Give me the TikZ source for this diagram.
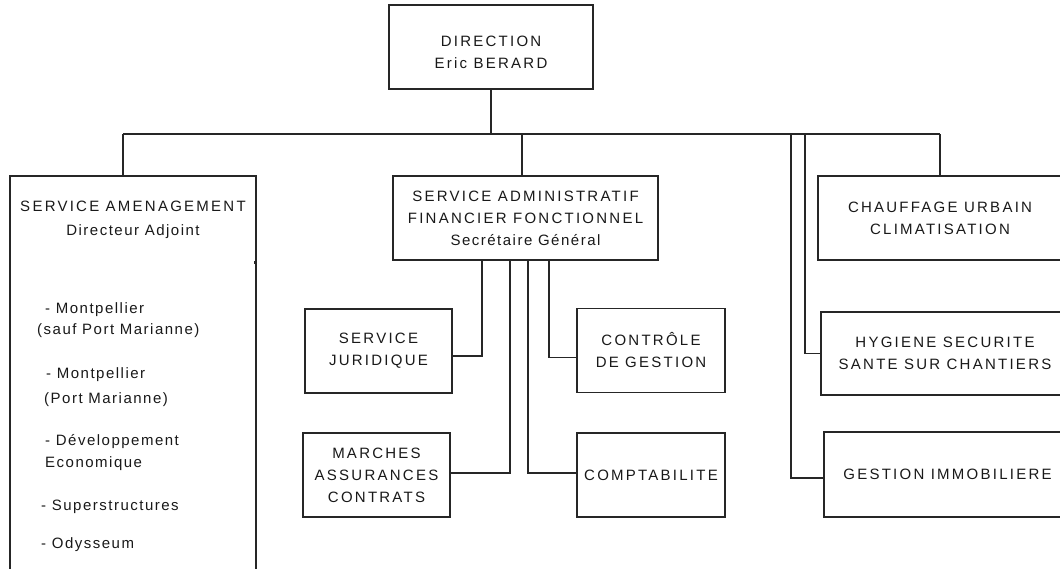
\documentclass[tikz,border=0pt]{standalone}
\usepackage{fontspec}
\setmainfont{Liberation Sans}
\newfontfamily\cps[LetterSpace=15]{Liberation Sans}
\newfontfamily\lws[LetterSpace=10]{Liberation Sans}
\begin{document}
\begin{tikzpicture}[x=1pt,y=-1pt,
  ln/.style={line width=1.5pt, draw=black!85},
  box/.style={ln, rectangle, inner sep=0pt, align=center, text=black!90,
    font=\fontsize{15}{22}\selectfont\cps},
  itm/.style={anchor=base west, inner sep=0pt, text=black!90,
    font=\fontsize{15}{22}\selectfont\lws},
  lbl/.style={align=center, inner sep=0pt, text=black!90,
    font=\fontsize{15}{22}\selectfont\cps}]
\useasboundingbox (0,0) rectangle (1060,568);
\clip (0,0) rectangle (1060,568);
\fill[white] (0,0) rectangle (1060,568);

% boxes
\node[box, minimum width=204pt, minimum height=84pt,
  label={[lbl, yshift=-5pt]center:{DIRECTION\\Eric BERARD}}] (dir) at (491,47) {};
\node[box, minimum width=246pt, minimum height=420pt] (amen) at (133,386) {};
\node[lbl, font=\fontsize{15}{24}\selectfont\cps] (amenT) at (133,220)
  {SERVICE AMENAGEMENT\\{\lws Directeur Adjoint}};
\node[box, minimum width=265pt, minimum height=84pt] (sa) at (525.5,218)
  {SERVICE ADMINISTRATIF\\FINANCIER FONCTIONNEL\\{\lws Secrétaire Général}};
\node[box, minimum width=147pt, minimum height=84pt] (jur) at (378.5,351)
  {SERVICE\\JURIDIQUE};
\node[box, minimum width=148pt, minimum height=84pt] (ctl) at (651,350.5)
  {CONTRÔLE\\DE GESTION};
\node[box, minimum width=147pt, minimum height=84pt] (mar) at (376.5,475)
  {MARCHES\\ASSURANCES\\CONTRATS};
\node[box, minimum width=148pt, minimum height=84pt] (cpt) at (651,475)
  {COMPTABILITE};
\node[box, minimum width=244pt, minimum height=84pt] (chf) at (940,218)
  {CHAUFFAGE URBAIN\\CLIMATISATION};
\node[box, minimum width=248pt, minimum height=83pt] (hyg) at (945,353.5)
  {HYGIENE SECURITE\\SANTE SUR CHANTIERS};
\node[box, minimum width=247pt, minimum height=85pt] (ges) at (947.5,474.5)
  {GESTION IMMOBILIERE};

% items of the left box
\node[itm] (i1a) at (45,313) {- Montpellier};
\node[itm] (i1b) at (37,334) {(sauf Port Marianne)};
\node[itm] (i2a) at (46,378) {- Montpellier};
\node[itm] (i2b) at (44,403) {(Port Marianne)};
\node[itm] (i3a) at (45,445) {- Développement};
\node[itm] (i3b) at (45,467) {Economique};
\node[itm] (i4a) at (41,510) {- Superstructures};
\node[itm] (i5a) at (41,548) {- Odysseum};
\fill[black!85] (254,260.5) rectangle (257,263.5);

% bus
\coordinate (busL) at (123,134);
\coordinate (busR) at (chf.north |- busL);
\coordinate (hygT) at (805,134);
\coordinate (gesT) at (791,134);
\draw[ln] (dir.south) -- (dir.south |- busL);
\draw[ln] (busL) -- (busR);
\draw[ln] (busL) -- (amen.north -| busL);
\draw[ln] ([xshift=-3.5pt]sa.north) -- ([xshift=-3.5pt]sa.north |- busL);
\draw[ln] (chf.north) -- (busR);
\draw[ln] (hyg.west) -| (hygT);
\draw[ln] ([yshift=-3.5pt]ges.west) -| (gesT);

% sub-services
\draw[ln] ([yshift=-5pt]jur.east) -| ([xshift=-43.5pt]sa.south);
\draw[ln] ([yshift=-7pt]ctl.west) -| ([xshift=23.5pt]sa.south);
\draw[ln] ([yshift=2pt]mar.east) -| ([xshift=-15.5pt]sa.south);
\draw[ln] ([yshift=2pt]cpt.west) -| ([xshift=2.5pt]sa.south);
\end{tikzpicture}
\end{document}
